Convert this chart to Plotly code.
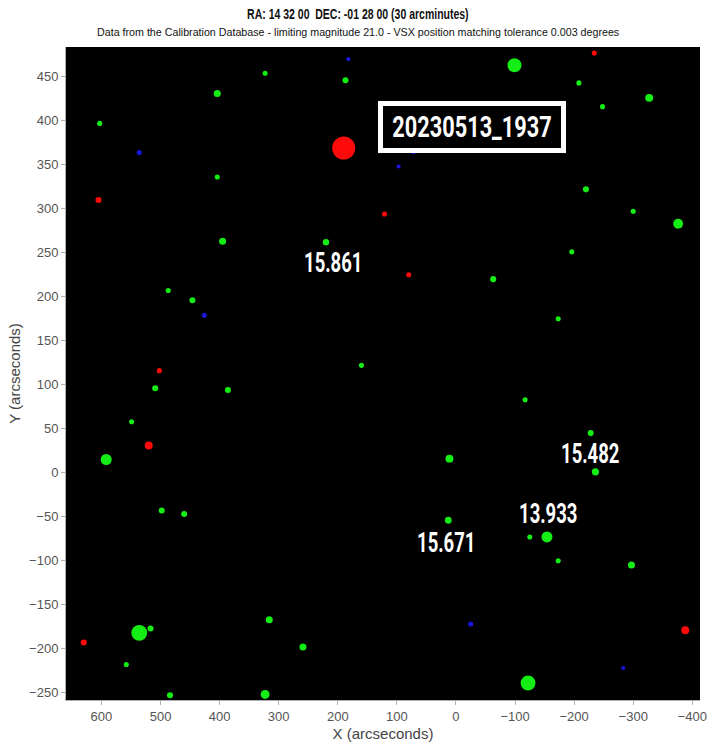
import plotly.graph_objects as go

# Star catalogue (arcseconds offset from field centre) and estimated magnitudes
green_x = [323, 187, 404, 603, 404, 395, 220, 487, 446, 160, -99, -208, -327, -248, -220, -300, -376, -196, -63, -173,
           509, 386, 549, 592, 498, 460, 316, 536, 517, 558, 259, 484, 323, -117, 11, -228, -236, 13, -125, -154, -173, -297, -122]
green_y = [454, 446, 431, 397, 336, 263, 262, 207, 196, 122, 463, 443, 426, 416, 322, 297, 283, 251, 220, 175,
           96, 94, 58, 15, -43, -47, -167, -182, -177, -218, -198, -253, -252, 83, 16, 45, 1, -54, -73, -73, -100, -105, -239]
green_mag = [16.4, 16.0, 15.6, 16.4, 16.4, 15.6, 15.861, 16.4, 16.0, 16.4, 12.7, 16.4, 15.2, 16.4, 16.0, 16.4, 14.4, 16.4, 16.0, 16.4,
             16.0, 16.0, 16.4, 13.9, 16.0, 16.0, 15.6, 11.9, 16.0, 16.4, 15.6, 16.0, 14.8, 16.4, 15.2, 16.0, 15.482, 15.671, 16.4, 13.933, 16.4, 15.6, 12.3]

red_x = [-234, 190, 605, 121, 80, 502, 520, 630, -388]
red_y = [477, 369, 310, 294, 225, 116, 31, -193, -179]
red_mag = [16.4, 8.9, 16.0, 16.4, 16.4, 16.4, 15.2, 16.0, 15.2]

blue_x = [182, 536, 72, 97, 426, -25, -283]
blue_y = [470, 364, 365, 348, 179, -172, -222]
blue_mag = [16.8, 16.4, 16.4, 16.8, 16.4, 16.4, 16.8]

# labelled comparison stars
label_x = [220, 13, -154, -236]
label_y = [262, -54, -73, 1]
label_text = ["15.861", "15.671", "13.933", "15.482"]

title_text = "RA: 14 32 00  DEC: -01 28 00 (30 arcminutes)"
subtitle_text = "Data from the Calibration Database - limiting magnitude 21.0 - VSX position matching tolerance 0.003 degrees"
stamp_text = "20230513_1937"


def mag_to_size(m):
    return [max(4.0, 7 + (15.6 - v) * 2.4) for v in m]


fig = go.Figure()
for xs, ys, ms, col in [(green_x, green_y, green_mag, "#14ee14"),
                        (red_x, red_y, red_mag, "#ff0a0a"),
                        (blue_x, blue_y, blue_mag, "#1616dc")]:
    fig.add_trace(go.Scatter(x=xs, y=ys, mode="markers",
                             marker=dict(size=mag_to_size(ms), color=col, opacity=1, line=dict(width=0)),
                             hoverinfo="skip", showlegend=False))

# per-annotation horizontal squeeze (to mimic condensed typeface)
squeeze = []

label_font = dict(family="Roboto, Liberation Sans, sans-serif", size=28, color="white", weight="bold")
shifts = {"15.861": (7, -20), "15.671": (-2, -22), "13.933": (1, 23), "15.482": (-5, 18)}
for lx, ly, lt in zip(label_x, label_y, label_text):
    xs, ys = shifts[lt]
    fig.add_annotation(x=lx, y=ly, text=lt, showarrow=False, font=label_font,
                       xshift=xs, yshift=ys)
    squeeze.append(0.66)

fig.add_annotation(xref="paper", yref="paper", x=0.640, y=0.917, text=stamp_text,
                   showarrow=False, font=dict(family=label_font["family"], size=29, color="white", weight="bold"),
                   bgcolor="black", bordercolor="white", borderwidth=5, borderpad=4,
                   width=170, height=34)
squeeze.append(0.75)

fig.add_annotation(xref="paper", yref="paper", x=(358 - 66) / 634, y=(700 - 14) / 653, yanchor="middle",
                   text="<b>%s</b>" % title_text, showarrow=False,
                   font=dict(family="Liberation Sans, Arial, sans-serif", size=14, color="#111"))
squeeze.append(0.75)
fig.add_annotation(xref="paper", yref="paper", x=(358 - 66) / 634, y=(700 - 32) / 653, yanchor="middle",
                   text=subtitle_text, showarrow=False,
                   font=dict(family="Liberation Sans, Arial, sans-serif", size=10.7, color="#111"))
squeeze.append(1.0)

axis_common = dict(showgrid=False, zeroline=False, showline=True, linecolor="#b0b0b0", linewidth=1,
                   ticks="outside", tickcolor="#b0b0b0", ticklen=4, automargin=False,
                   tickfont=dict(family="Liberation Sans, Arial, sans-serif", size=13, color="#555"),
                   title_font=dict(family="Liberation Sans, Arial, sans-serif", size=15, color="#444"))

fig.update_layout(
    width=717, height=749,
    margin=dict(l=66, r=17, t=47, b=49, autoexpand=False),
    paper_bgcolor="white", plot_bgcolor="black",
    xaxis=dict(range=[660, -413], dtick=100, title=dict(text="X (arcseconds)", standoff=5), **axis_common),
    yaxis=dict(range=[-258.3, 483.8], dtick=50, title=dict(text="Y (arcseconds)", standoff=4), **axis_common),
)

post = """
document.body.style.margin = '0';
document.body.style.padding = '0';
var sq = %s;
function squeezeAnn(){
  var anns = document.querySelectorAll('g.annotation');
  anns.forEach(function(g){
    var i = parseInt(g.getAttribute('data-index'));
    var s = sq[i];
    if (s === undefined || s === 1) return;
    var t = g.querySelector('text.annotation-text');
    if (!t) return;
    t.removeAttribute('clip-path');
    t.style.clipPath = 'none';
    t.removeAttribute('transform');
    var b = t.getBBox();
    var cx = b.x + b.width / 2;
    t.setAttribute('transform', 'translate(' + cx + ',0) scale(' + s + ',1) translate(' + (-cx) + ',0)');
  });
}
squeezeAnn();
var gd = document.getElementById('{plot_id}');
if (gd && gd.on) { gd.on('plotly_afterplot', squeezeAnn); }
""" % (str(squeeze))

fig.write_html("out.html", post_script=post, config={"displayModeBar": False})
